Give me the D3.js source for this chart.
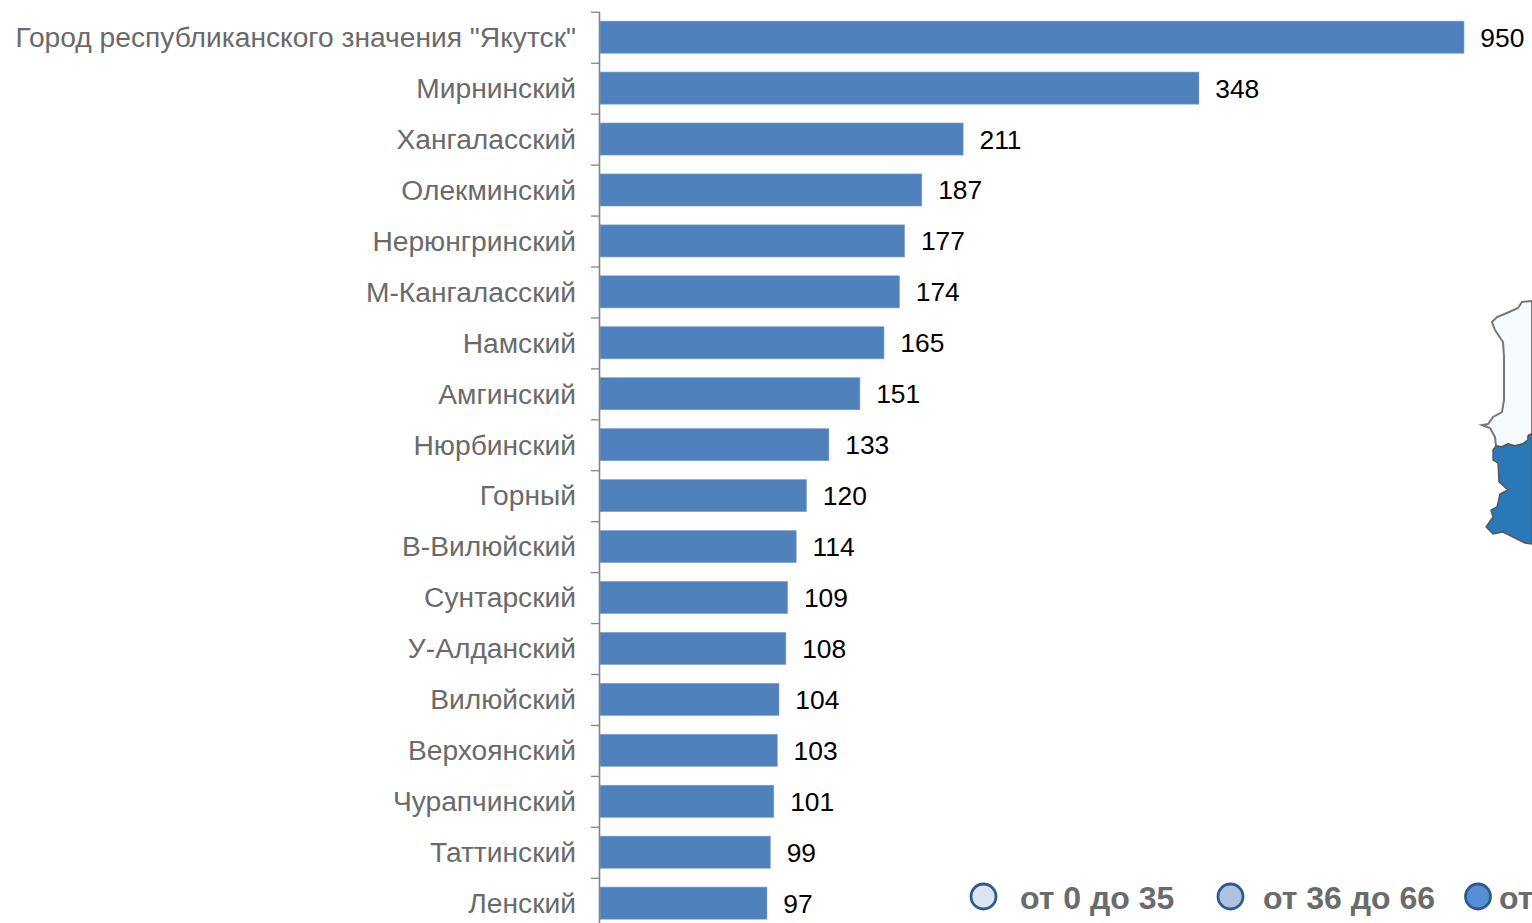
<!DOCTYPE html>
<html><head><meta charset="utf-8">
<script src="https://cdn.jsdelivr.net/npm/d3@7"></script>
<style>html,body{margin:0;padding:0;background:#fff;overflow:hidden}svg{display:block}text{font-family:"Liberation Sans",Arial,sans-serif}</style>
</head><body><svg id="c" width="1532" height="923"></svg>
<script>
const categories = ['Город республиканского значения "Якутск"',"Мирнинский","Хангаласский","Олекминский","Нерюнгринский","М-Кангаласский","Намский","Амгинский","Нюрбинский","Горный","В-Вилюйский","Сунтарский","У-Алданский","Вилюйский","Верхоянский","Чурапчинский","Таттинский","Ленский"];
const values = [950,348,211,187,177,174,165,151,133,120,114,109,108,104,103,101,99,97];
const legendLabels = ["от 0 до 35","от 36 до 66","от"];
const legendFills = ["#dce6f2","#adc4e0","#558ed5"];
const mapNorth = [[1532,301],[1522,302],[1518,308],[1507,313],[1497,317],[1492,322],[1495,330],[1503,342],[1504,357],[1504,400],[1502,412],[1493,417],[1488,424],[1482,425],[1490,428],[1495,437],[1496,446],[1502,447],[1508,444],[1515,446],[1523,444],[1528,440],[1529,435],[1532,434]];
const mapSouth = [[1532,434],[1528,436],[1528,440],[1523,444],[1515,446],[1508,444],[1502,447],[1496,446],[1493,450],[1493,460],[1498,463],[1499,482],[1508,490],[1500,494],[1497,507],[1491,510],[1493,517],[1486,527],[1493,534],[1503,532],[1515,538],[1525,543],[1532,544]];

const svg = d3.select("#c");
const line = d3.line().curve(d3.curveLinear);
svg.append("path").attr("d", line(mapNorth)+"Z").attr("fill","#f7fbff").attr("stroke","#777").attr("stroke-width",2);
svg.append("path").attr("d", line(mapSouth)+"Z").attr("fill","#2a78b8").attr("stroke","#555").attr("stroke-width",1.4);

// The first bar runs past the axis limit and is cut at the plot edge, as in the source chart
const x = d3.scaleLinear().domain([0,502]).range([600,1464]).clamp(true);
const y = d3.scaleBand().domain(categories).range([11.7,928.6]).paddingInner(0.37).paddingOuter(0.185);

svg.append("g").selectAll("rect").data(values).join("rect")
  .attr("x",x(0)).attr("y",(d,i)=>y(categories[i])).attr("width",d=>x(d)-x(0)).attr("height",y.bandwidth())
  .attr("fill","#4f81bd").attr("stroke","#7ea3cf").attr("stroke-width",0.6);

const step = y.step();
const axis = svg.append("g");
axis.append("line").attr("x1",599.5).attr("x2",599.5).attr("y1",12).attr("y2",929).attr("stroke","#858585").attr("stroke-width",1.6);
axis.selectAll("line.t").data(categories).join("line").attr("class","t")
  .attr("x1",591).attr("x2",600).attr("y1",(d,i)=>12.3+i*step).attr("y2",(d,i)=>12.3+i*step)
  .attr("stroke","#858585").attr("stroke-width",1.3);

svg.append("g").selectAll("text").data(categories).join("text")
  .attr("x",576).attr("y",d=>y(d)+y.bandwidth()/2).attr("dy","0.35em").attr("text-anchor","end")
  .attr("font-size",28.2).attr("fill","#6a6a6a").text(d=>d);

svg.append("g").selectAll("text").data(values).join("text")
  .attr("x",d=>x(d)+16.3).attr("y",(d,i)=>y(categories[i])+y.bandwidth()/2).attr("dy","0.36em")
  .attr("font-size",26.4).attr("fill","#000").text(d=>d);

const lx = d3.scaleOrdinal().domain(legendLabels).range([983.5,1230.5,1478]);
const ltx = d3.scaleOrdinal().domain(legendLabels).range([1020,1263,1499]);
const lg = svg.append("g");
lg.selectAll("circle").data(legendLabels).join("circle")
  .attr("cx",d=>lx(d)).attr("cy",896.5).attr("r",12.5).attr("fill",(d,i)=>legendFills[i]).attr("stroke","#2f5a8f").attr("stroke-width",2.8);
lg.selectAll("text").data(legendLabels).join("text")
  .attr("x",d=>ltx(d)).attr("y",909).attr("font-size",32).attr("font-weight","bold").attr("fill","#6b6b6b").text(d=>d);
</script></body></html>
